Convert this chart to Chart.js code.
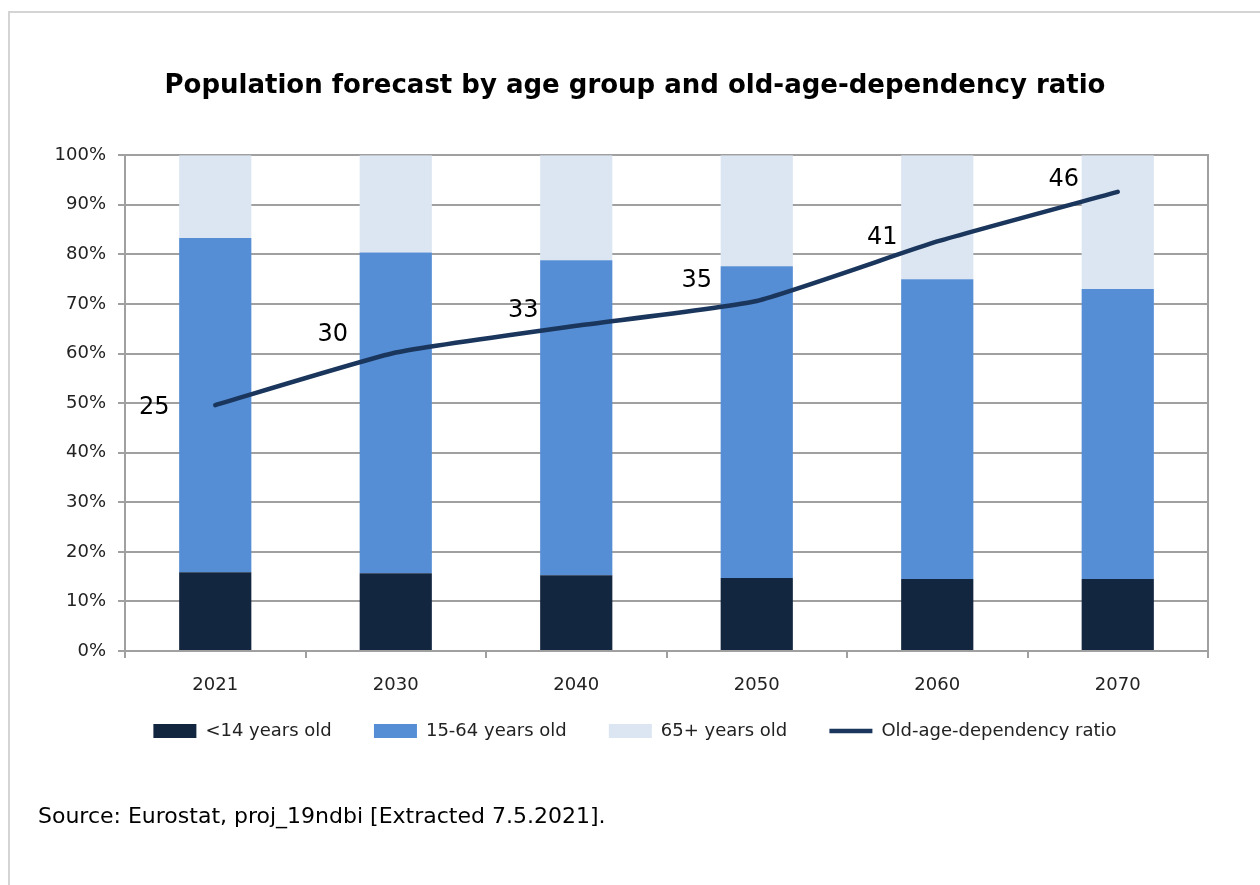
<!DOCTYPE html>
<html>
<head>
<meta charset="utf-8">
<title>Population forecast</title>
<script src="https://cdn.jsdelivr.net/npm/chart.js@4"></script>
<style>
  html, body { margin: 0; padding: 0; background: #fff; }
  #wrap { position: relative; width: 1260px; height: 885px; overflow: hidden; }
  #frame { position: absolute; left: 8px; top: 11px; width: 1300px; height: 900px;
           border-left: 2px solid #d4d4d4; border-top: 2px solid #d4d4d4; }
  #chart { position: absolute; left: 0; top: 0; }
  #source { position: absolute; left: 38px; top: 803px; font: 22px "DejaVu Sans", sans-serif; color: #000; }
</style>
</head>
<body>
<div id="wrap">
  <div id="frame"></div>
  <canvas id="chart" width="1260" height="885"></canvas>
  <div id="source">Source: Eurostat, proj_19ndbi [Extracted 7.5.2021].</div>
</div>
<script>
// ---- data ----
const years = ['2021', '2030', '2040', '2050', '2060', '2070'];
const under14 = [15.9, 15.7, 15.3, 14.7, 14.5, 14.5];
const age15to64 = [67.4, 64.7, 63.5, 62.9, 60.5, 58.5];
const over65 = [16.7, 19.6, 21.2, 22.4, 25.0, 27.0];
const dependencyRatio = [24.8, 30.1, 32.8, 35.3, 41.3, 46.3];

const FONT = '"DejaVu Sans", sans-serif';
const GRID = '#a0a0a0';

// labels next to the line points (offsets in px, style only)
const labelOffsets = [[-61, 3], [-63, -18], [-53, -15], [-60, -20], [-55, -4], [-54, -12]];

const ratioLabels = {
    id: 'ratioLabels',
    afterDatasetsDraw(chart) {
        const meta = chart.getDatasetMeta(3);
        const ctx = chart.ctx;
        ctx.save();
        ctx.font = '24px ' + FONT;
        ctx.fillStyle = '#000';
        ctx.textAlign = 'center';
        ctx.textBaseline = 'middle';
        meta.data.forEach((pt, i) => {
            const [dx, dy] = labelOffsets[i];
            ctx.fillText(Math.round(dependencyRatio[i]), pt.x + dx, pt.y + dy);
        });
        ctx.restore();
    }
};

const defaultLabels = Chart.defaults.plugins.legend.labels.generateLabels;

new Chart(document.getElementById('chart'), {
    data: {
        labels: years,
        datasets: [
            { type: 'bar', label: '<14 years old', data: under14, backgroundColor: '#12263F',
              yAxisID: 'y', barPercentage: 0.4, categoryPercentage: 1, pointStyle: 'rect', order: 1 },
            { type: 'bar', label: '15-64 years old', data: age15to64, backgroundColor: '#558ED5',
              yAxisID: 'y', barPercentage: 0.4, categoryPercentage: 1, pointStyle: 'rect', order: 1 },
            { type: 'bar', label: '65+ years old', data: over65, backgroundColor: '#DCE6F2',
              yAxisID: 'y', barPercentage: 0.4, categoryPercentage: 1, pointStyle: 'rect', order: 1 },
            { type: 'line', label: 'Old-age-dependency ratio', data: dependencyRatio, yAxisID: 'y1',
              borderColor: '#1B365D', backgroundColor: '#1B365D', borderWidth: 4.5, tension: 0.15,
              borderCapStyle: 'round', pointRadius: 0, pointStyle: 'line', order: 0 }
        ]
    },
    options: {
        responsive: false,
        animation: false,
        layout: { padding: { left: 10, right: 0, top: 0, bottom: 135 } },
        scales: {
            x: {
                stacked: true,
                grid: { drawOnChartArea: false, color: GRID, lineWidth: 2, tickLength: 7 },
                border: { color: GRID, width: 2 },
                ticks: { font: { family: FONT, size: 18 }, color: '#222', padding: 17 },
                afterFit: s => { s.height = 46; }
            },
            y: {
                stacked: true, min: 0, max: 100,
                grid: { color: GRID, lineWidth: 2, tickLength: 7 },
                border: { color: GRID, width: 2 },
                ticks: { stepSize: 10, font: { family: FONT, size: 18 }, color: '#222', padding: 12,
                         callback: v => v + '%' },
                afterFit: s => { s.width = 115; }
            },
            y1: {
                position: 'right', min: 0, max: 50, stacked: false,
                grid: { drawOnChartArea: false, drawTicks: false },
                border: { color: GRID, width: 2 },
                ticks: { display: false },
                afterFit: s => { s.width = 52; }
            }
        },
        plugins: {
            title: {
                display: true,
                text: 'Population forecast by age group and old-age-dependency ratio',
                color: '#000',
                font: { family: FONT, size: 26, weight: 'bold' },
                padding: { top: 71, bottom: 53 }
            },
            legend: {
                position: 'bottom',
                labels: {
                    // trailing spaces widen the gap between legend items (not after the last one)
                    generateLabels: chart => {
                        const last = chart.data.datasets.length - 1;
                        return defaultLabels(chart).map(l =>
                            ({ ...l, text: l.datasetIndex < last ? l.text + '   ' : l.text }));
                    },
                    sort: (a, b) => a.datasetIndex - b.datasetIndex,
                    usePointStyle: true, pointStyleWidth: 43, boxHeight: 14,
                    font: { family: FONT, size: 18 }, color: '#222', padding: 25
                }
            },
            tooltip: { enabled: false }
        }
    },
    plugins: [ratioLabels]
});
</script>
</body>
</html>
